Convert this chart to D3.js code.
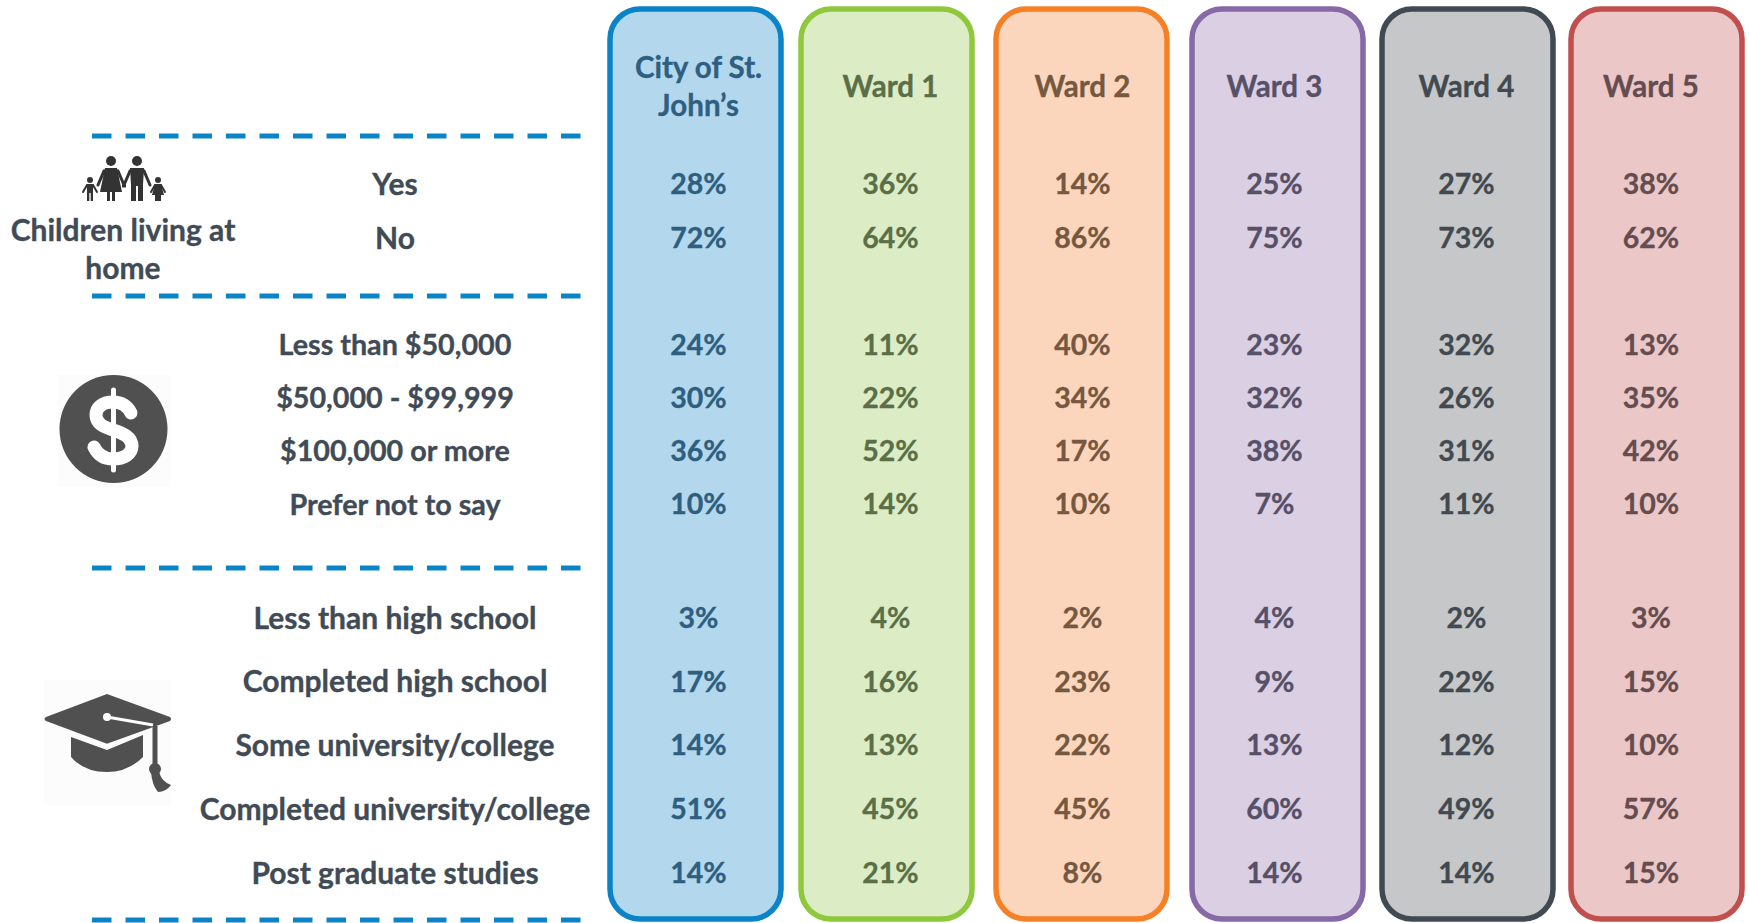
<!DOCTYPE html>
<html>
<head>
<meta charset="utf-8">
<script src="https://cdnjs.cloudflare.com/ajax/libs/d3/7.8.5/d3.min.js"></script>
<style>
  html, body { margin: 0; padding: 0; background: #fff; }
  svg { display: block; }
  text { font-family: Lato, "Open Sans", sans-serif; font-weight: 700; text-anchor: middle; stroke-width: 0.35px; }
</style>
</head>
<body>
<div id="chart"></div>
<script>
const columns = ["City of St. John’s", "Ward 1", "Ward 2", "Ward 3", "Ward 4", "Ward 5"];
const childrenRows = ["Yes", "No"];
const incomeRows = ["Less than $50,000", "$50,000 - $99,999", "$100,000 or more", "Prefer not to say"];
const educationRows = ["Less than high school", "Completed high school", "Some university/college", "Completed university/college", "Post graduate studies"];

const cityValues = [28, 72, 24, 30, 36, 10, 3, 17, 14, 51, 14];
const ward1Values = [36, 64, 11, 22, 52, 14, 4, 16, 13, 45, 21];
const ward2Values = [14, 86, 40, 34, 17, 10, 2, 23, 22, 45, 8];
const ward3Values = [25, 75, 23, 32, 38, 7, 4, 9, 13, 60, 14];
const ward4Values = [27, 73, 32, 26, 31, 11, 2, 22, 12, 49, 14];
const ward5Values = [38, 62, 13, 35, 42, 10, 3, 15, 10, 57, 15];
const allValues = [cityValues, ward1Values, ward2Values, ward3Values, ward4Values, ward5Values];

const fills = ["#b3d8ee", "#dcedc6", "#fcd6bc", "#dacfe3", "#c6c7c9", "#ebc8c7"];
const strokes = ["#0a84c6", "#8fc83d", "#f58026", "#8669a6", "#414a52", "#c0504d"];
const inks = ["#2e5f80", "#5b6f47", "#75583f", "#565068", "#414a50", "#654c50"];

const width = 1749, height = 923;
const labelInk = "#414b56";
const valueSize = 28.5, labelSize = 30, incomeSize = 28.7, headerSize = 29.5;

const svg = d3.select("#chart").append("svg")
    .attr("width", width)
    .attr("height", height);

// one row scale per block, the blocks have different spacing
const yChildren = d3.scalePoint().domain(childrenRows).range([184.5, 238.5]);
const yIncome = d3.scalePoint().domain(incomeRows).range([345, 504.5]);
const yEducation = d3.scalePoint().domain(educationRows).range([618, 873]);

const rows = [
    ...childrenRows.map(d => ({ label: d, y: yChildren(d), size: labelSize })),
    ...incomeRows.map(d => ({ label: d, y: yIncome(d), size: incomeSize })),
    ...educationRows.map(d => ({ label: d, y: yEducation(d), size: labelSize }))
];

// the text columns are not centred in the boxes in the original
const x = d3.scaleOrdinal().domain(columns).range([610, 801, 996, 1192, 1382, 1571]);
const xText = d3.scaleOrdinal().domain(columns).range([698.5, 890.5, 1082.5, 1274.5, 1466.5, 1651]);
const panelWidth = 171;

// Panels
svg.selectAll("rect.panel")
    .data(columns)
    .enter()
    .append("rect")
    .attr("class", "panel")
    .attr("x", d => x(d))
    .attr("y", 9)
    .attr("width", panelWidth)
    .attr("height", 910)
    .attr("rx", 30)
    .attr("ry", 30)
    .attr("fill", (d, i) => fills[i])
    .attr("stroke", (d, i) => strokes[i])
    .attr("stroke-width", 5.5);

// Column headers and values
columns.forEach((c, i) => {
    const lines = i === 0 ? ["City of St.", "John’s"] : [c];
    const ys = i === 0 ? [68, 106] : [87];
    lines.forEach((line, j) => {
        svg.append("text")
            .attr("x", xText(c))
            .attr("y", ys[j])
            .attr("dy", "0.35em")
            .attr("fill", inks[i])
            .attr("stroke", inks[i])
            .style("font-size", headerSize + "px")
            .text(line);
    });

    svg.selectAll("text.val" + i)
        .data(allValues[i])
        .enter()
        .append("text")
        .attr("class", "val" + i)
        .attr("x", xText(c))
        .attr("y", (d, k) => rows[k].y)
        .attr("dy", "0.35em")
        .attr("fill", inks[i])
        .attr("stroke", inks[i])
        .style("font-size", valueSize + "px")
        .text(d => d + "%");
});

// Row labels
svg.selectAll("text.rowlabel")
    .data(rows)
    .enter()
    .append("text")
    .attr("class", "rowlabel")
    .attr("x", 395)
    .attr("y", d => d.y)
    .attr("dy", "0.35em")
    .attr("fill", labelInk)
    .attr("stroke", labelInk)
    .style("font-size", d => d.size + "px")
    .text(d => d.label);

["Children living at", "home"].forEach((line, i) => {
    svg.append("text")
        .attr("x", 123)
        .attr("y", 230 + i * 38)
        .attr("dy", "0.35em")
        .attr("fill", labelInk)
        .attr("stroke", labelInk)
        .style("font-size", "30px")
        .text(line);
});

// Dashed separators
svg.selectAll("line.sep")
    .data([136, 296, 568, 920])
    .enter()
    .append("line")
    .attr("class", "sep")
    .attr("x1", 92)
    .attr("x2", 582)
    .attr("y1", d => d)
    .attr("y2", d => d)
    .attr("stroke", "#0a84c6")
    .attr("stroke-width", 5)
    .attr("stroke-dasharray", "19.5 14");

// Family icon
const iconInk = "#333";
const family = svg.append("g").attr("fill", iconInk);
function adult(cx, skirt) {
    family.append("circle").attr("cx", cx).attr("cy", 161).attr("r", 5);
    family.append("path")
        .attr("stroke", iconInk).attr("stroke-width", 3).attr("stroke-linecap", "round").attr("fill", "none")
        .attr("d", `M${cx - 13},${185} L${cx - 7},${171} L${cx + 7},${171} L${cx + 13},${185}`);
    family.append("path")
        .attr("d", skirt
            ? `M${cx - 6},168 L${cx + 6},168 L${cx + 11},192 L${cx + 4},192 L${cx + 4},201 L${cx + 1},201 L${cx + 1},192 L${cx - 1},192 L${cx - 1},201 L${cx - 4},201 L${cx - 4},192 L${cx - 11},192 Z`
            : `M${cx - 7},168 L${cx + 7},168 L${cx + 6},185 L${cx + 6},201 L${cx + 1},201 L${cx + 1},186 L${cx - 1},186 L${cx - 1},201 L${cx - 6},201 L${cx - 6},185 Z`);
}
function kid(cx, skirt) {
    family.append("circle").attr("cx", cx).attr("cy", 180).attr("r", 3);
    family.append("path")
        .attr("stroke", iconInk).attr("stroke-width", 2).attr("stroke-linecap", "round").attr("fill", "none")
        .attr("d", `M${cx - 7},${192} L${cx - 3},${185} L${cx + 3},${185} L${cx + 7},${192}`);
    family.append("path")
        .attr("d", skirt
            ? `M${cx - 3},184 L${cx + 3},184 L${cx + 6},195 L${cx + 3},195 L${cx + 3},201 L${cx - 3},201 L${cx - 3},195 L${cx - 6},195 Z`
            : `M${cx - 3},184 L${cx + 3},184 L${cx + 3},201 L${cx + 0.7},201 L${cx + 0.7},193 L${cx - 0.7},193 L${cx - 0.7},201 L${cx - 3},201 Z`);
}
adult(111, true);
adult(137, false);
kid(90, false);
kid(158, true);
family.append("path").attr("stroke", iconInk).attr("stroke-width", 3).attr("fill", "none").attr("d", "M122,186 L126,186");

// Dollar icon
const money = svg.append("g");
money.append("rect").attr("x", 58).attr("y", 375).attr("width", 112).attr("height", 112).attr("fill", "#fcfcfc");
money.append("circle").attr("cx", 113.5).attr("cy", 429).attr("r", 54).attr("fill", "#505050");
money.append("path")
    .attr("d", "M131,413 C127,405 121,402 113,402 C102,402 96,408 96,415 C96,424 104,427 113,430 C123,433 132,437 132,446 C132,454 124,459 113,459 C105,459 98,455 94,447")
    .attr("fill", "none").attr("stroke", "#fff").attr("stroke-width", 13).attr("stroke-linecap", "round");
money.append("path")
    .attr("d", "M113.5,390 L113.5,470")
    .attr("fill", "none").attr("stroke", "#fff").attr("stroke-width", 5).attr("stroke-linecap", "round");

// Graduation cap icon
const hat = svg.append("g");
hat.append("rect").attr("x", 44).attr("y", 680).attr("width", 127).attr("height", 125).attr("fill", "#fcfcfc");
hat.append("path").attr("fill", "#505050")
    .attr("d", "M107,694 L170,717 Q172,719 170,721 L109,743 Q107,744 105,743 L46,721 Q43,719 46,717 Z");
hat.append("path").attr("fill", "#505050")
    .attr("d", "M71,737 L107,750 L143,735 L143,757 Q128,772 107,772 Q84,772 71,757 Z");
hat.append("path").attr("fill", "none").attr("stroke", "#fff").attr("stroke-width", 3)
    .attr("d", "M107,717 L153,725");
hat.append("circle").attr("cx", 107).attr("cy", 717).attr("r", 4).attr("fill", "#fff");
hat.append("path").attr("fill", "none").attr("stroke", "#505050").attr("stroke-width", 5)
    .attr("d", "M155,726 L155,770");
hat.append("circle").attr("cx", 155).attr("cy", 769).attr("r", 6).attr("fill", "#505050");
hat.append("path").attr("fill", "#505050")
    .attr("d", "M151,772 L159,772 Q162,782 171,785 Q166,792 158,792 Q152,785 151,772 Z");
</script>
</body>
</html>
